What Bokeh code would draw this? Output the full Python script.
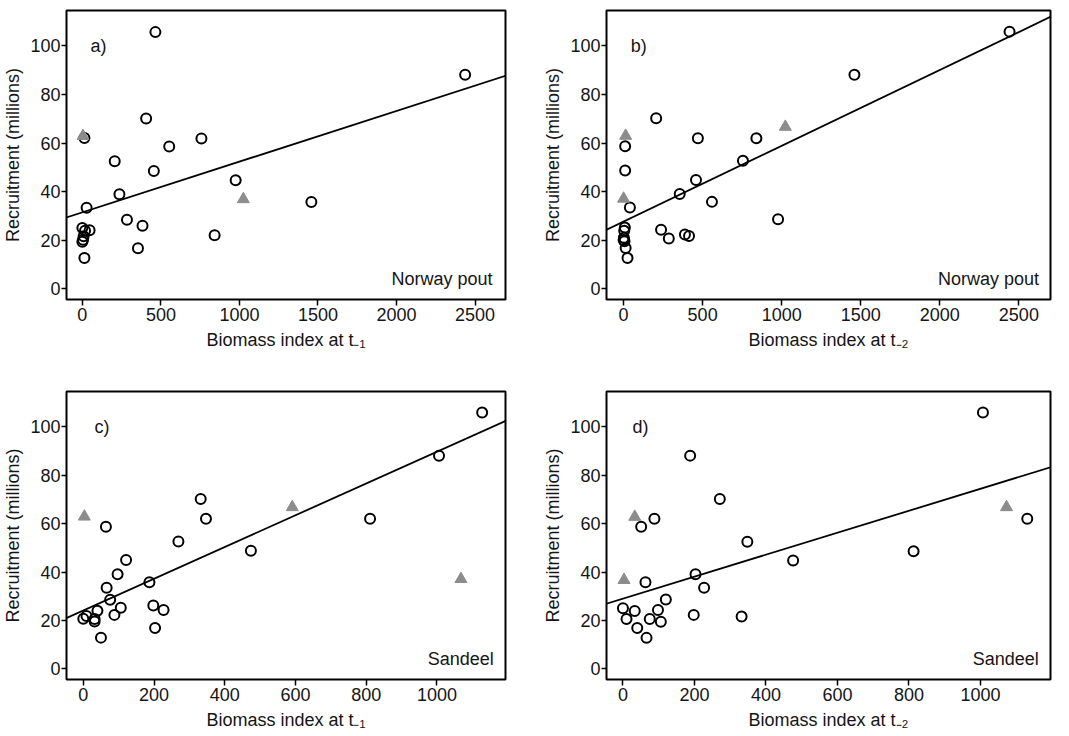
from bokeh.plotting import figure
from bokeh.layouts import gridplot
from bokeh.models import Slope, Label, FixedTicker, Range1d
from bokeh.embed import file_html
from bokeh.resources import INLINE

# ---------------- data ----------------
# Panel a: Norway pout, biomass index at t-1
a_circ_x = [465, 2437, 406, 13, 758, 553, 206, 455, 976, 236, 1458, 27, 284, 383,
            0, 46, 17, 842, 8, 4, 0, 354, 13]
a_circ_y = [105.7, 88.1, 70.1, 62.1, 61.9, 58.6, 52.5, 48.5, 44.7, 38.9, 35.7, 33.4,
            28.4, 26.0, 25.0, 24.1, 23.9, 22.1, 21.6, 20.2, 19.4, 16.7, 12.7]
a_tri_x = [4, 1025]
a_tri_y = [62.9, 36.9]

# Panel b: Norway pout, biomass index at t-2
b_circ_x = [2441, 1460, 206, 470, 840, 10, 755, 10, 458, 355, 559, 40, 977, 237,
            286, 388, 414, 8, 4, 2, 0, 6, 13, 25]
b_circ_y = [105.9, 88.1, 70.2, 62.0, 62.0, 58.7, 52.7, 48.7, 44.8, 39.0, 35.8, 33.5,
            28.6, 24.3, 20.7, 22.4, 21.7, 25.2, 23.9, 21.0, 20.1, 19.6, 16.8, 12.7]
b_tri_x = [13, 0, 1023]
b_tri_y = [63.0, 37.1, 66.7]

# Panel c: Sandeel, biomass index at t-1
c_circ_x = [1128, 1006, 332, 347, 811, 64, 269, 474, 121, 97, 187, 66, 76, 198,
            106, 227, 40, 88, 9, 0, 32, 32, 203, 50]
c_circ_y = [105.9, 88.1, 70.2, 62.0, 62.0, 58.7, 52.6, 48.8, 45.0, 39.1, 35.8, 33.5,
            28.6, 26.2, 25.2, 24.3, 24.0, 22.3, 21.8, 20.7, 20.6, 19.6, 16.9, 12.9]
c_tri_x = [3, 591, 1068]
c_tri_y = [62.9, 66.8, 37.1]

# Panel d: Sandeel, biomass index at t-2
d_circ_x = [1007, 188, 271, 88, 1131, 51, 348, 813, 476, 203, 63, 227, 120, 0,
            33, 98, 198, 332, 10, 75, 106, 40, 66]
d_circ_y = [105.9, 88.1, 70.2, 62.0, 62.0, 58.7, 52.5, 48.6, 44.8, 39.1, 35.8, 33.5,
            28.7, 25.0, 23.9, 24.3, 22.3, 21.6, 20.6, 20.6, 19.5, 16.9, 12.8]
d_tri_x = [33, 3, 1073]
d_tri_y = [62.8, 36.7, 66.8]

# fitted lines (gradient, intercept at x = 0)
fit_gradient = [0.02086, 0.03123, 0.0656, 0.0454]
fit_intercept = [31.5, 27.66, 24.1, 29.0]

panel_letters = ["a)", "b)", "c)", "d)"]
species = ["Norway pout", "Norway pout", "Sandeel", "Sandeel"]
x_labels = ["Biomass index at t\u208b\u2081", "Biomass index at t\u208b\u2082",
            "Biomass index at t\u208b\u2081", "Biomass index at t\u208b\u2082"]
y_label = "Recruitment (millions)"
y_ticks = [0, 20, 40, 60, 80, 100]
x_ticks_np = [0, 500, 1000, 1500, 2000, 2500]
x_ticks_sd = [0, 200, 400, 600, 800, 1000]

FONT = "Liberation Sans"
FS = "18px"
TRI = "#8c8c8c"
TXT = "#151515"


def make_panel(cx, cy, tx, ty, xr, xticks, grad, icpt, letter, letter_x, sp, sp_x,
               xlab, w, borders):
    left, right, top, bottom = borders
    p = figure(width=w, height=368, output_backend="svg", toolbar_location=None,
               x_range=Range1d(*xr), y_range=Range1d(-4.4, 114.6),
               min_border_left=left, min_border_right=right,
               min_border_top=top, min_border_bottom=bottom)
    p.grid.visible = False
    p.outline_line_color = "black"
    p.outline_line_width = 2
    p.outline_line_alpha = 1
    for ax in p.axis:
        ax.axis_line_color = None
        ax.major_tick_in = 0
        ax.major_tick_line_width = 1.5
        ax.major_tick_line_color = "black"
        ax.minor_tick_line_color = None
        ax.major_label_text_font = FONT
        ax.major_label_text_font_size = FS
        ax.major_label_text_color = TXT
        ax.axis_label_text_font = FONT
        ax.axis_label_text_font_size = FS
        ax.axis_label_text_font_style = "normal"
        ax.axis_label_text_color = TXT
    xa = p.xaxis[0]
    ya = p.yaxis[0]
    xa.ticker = FixedTicker(ticks=xticks)
    ya.ticker = FixedTicker(ticks=y_ticks)
    xa.major_tick_out = 6
    ya.major_tick_out = 5
    xa.major_label_standoff = 2
    ya.major_label_standoff = 1
    xa.axis_label = xlab
    ya.axis_label = y_label
    xa.axis_label_standoff = 6
    ya.axis_label_standoff = 4

    p.add_layout(Slope(gradient=grad, y_intercept=icpt, line_color="black",
                       line_width=1.8))
    p.scatter(cx, cy, marker="circle", size=10, fill_color=None,
              line_color="black", line_width=2)
    p.scatter(tx, ty, marker="triangle", size=12, fill_color=TRI, line_color=TRI)

    p.add_layout(Label(x=letter_x, y=100, text=letter, text_font=FONT,
                       text_font_size=FS, text_baseline="middle", text_align="left",
                       text_color=TXT))
    p.add_layout(Label(x=sp_x, y=4.2, text=sp, text_font=FONT, text_font_size=FS,
                       text_baseline="middle", text_align="right",
                       text_color=TXT))
    return p


pa = make_panel(a_circ_x, a_circ_y, a_tri_x, a_tri_y, (-101, 2694), x_ticks_np,
                fit_gradient[0], fit_intercept[0], panel_letters[0], 52,
                species[0], 2612, x_labels[0], 534, (64, 27, 10, 67))
pb = make_panel(b_circ_x, b_circ_y, b_tri_x, b_tri_y, (-108, 2700), x_ticks_np,
                fit_gradient[1], fit_intercept[1], panel_letters[1], 46,
                species[1], 2627, x_labels[1], 535, (72, 19, 8, 69))
pc = make_panel(c_circ_x, c_circ_y, c_tri_x, c_tri_y, (-47.5, 1194), x_ticks_sd,
                fit_gradient[2], fit_intercept[2], panel_letters[2], 32,
                species[2], 1161, x_labels[2], 534, (61, 29, 21, 57))
pd_ = make_panel(d_circ_x, d_circ_y, d_tri_x, d_tri_y, (-46, 1196), x_ticks_sd,
                 fit_gradient[3], fit_intercept[3], panel_letters[3], 27,
                 species[3], 1163, x_labels[3], 535, (72, 19, 23, 55))

grid = gridplot([[pa, pb], [pc, pd_]], toolbar_location=None)

open("out.html", "w").write(file_html(grid, INLINE))
